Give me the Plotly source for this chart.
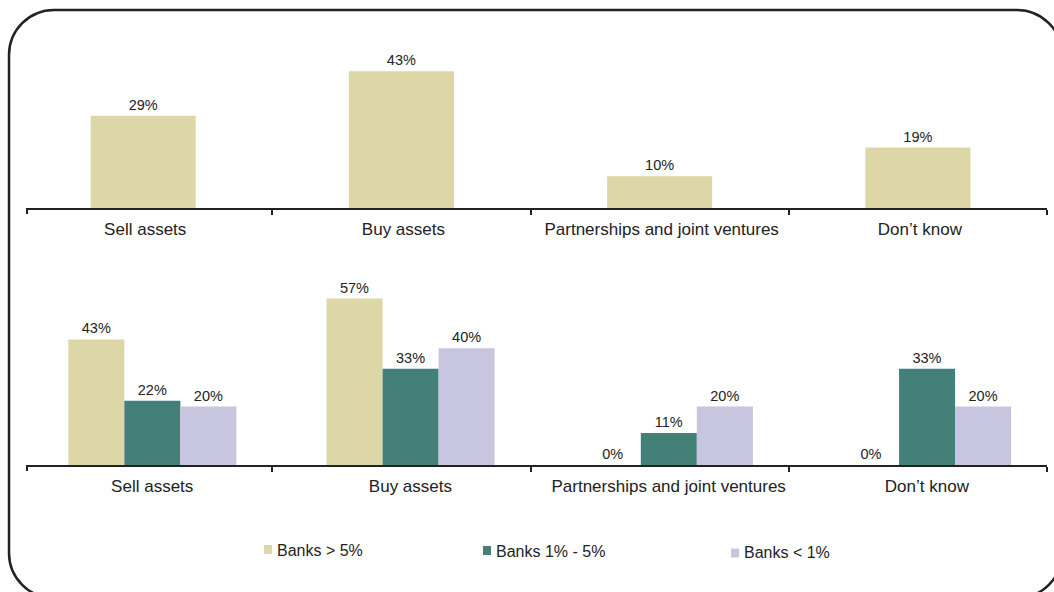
import plotly.graph_objects as go

# ---- data ----
categories = ["Sell assets", "Buy assets", "Partnerships and joint ventures", "Don\u2019t know"]
all_banks = [29, 43, 10, 19]
banks_gt5 = [43, 57, 0, 0]
banks_1_5 = [22, 33, 11, 33]
banks_lt1 = [20, 40, 20, 20]
series_names = ["Banks > 5%", "Banks 1% - 5%", "Banks < 1%"]

C_BEIGE = "#DDD7A8"
C_TEAL = "#428078"
C_LAV = "#C8C5E1"
TXT = "#222222"

W, H = 1054, 592


def px(x):
    return x / W


def py(y):
    return 1 - y / H


VAL_FONT = dict(family="Liberation Sans Narrow, Arial Narrow, Liberation Sans, Arial", size=14.5, color=TXT)
CAT_FONT = dict(family="Liberation Sans, Arial", size=17, color=TXT)
LEG_FONT = dict(family="Liberation Sans, Arial", size=16, color=TXT)

fig = go.Figure()

# top chart
fig.add_trace(go.Bar(
    x=categories, y=all_banks, xaxis="x", yaxis="y",
    marker=dict(color=C_BEIGE, line=dict(width=0)),
    width=0.407,
    texttemplate="%{y}%", textposition="outside", textfont=VAL_FONT,
    cliponaxis=False, showlegend=False, name="All banks",
))

# bottom chart
offsets = [-0.29, -0.073, 0.144]
colors = [C_BEIGE, C_TEAL, C_LAV]
for name, vals, col, off in zip(series_names, [banks_gt5, banks_1_5, banks_lt1], colors, offsets):
    fig.add_trace(go.Bar(
        x=categories, y=vals, xaxis="x2", yaxis="y2", name=name,
        marker=dict(color=col, line=dict(width=0)),
        width=0.217, offset=off,
        texttemplate="%{y}%", textposition="outside", textfont=VAL_FONT,
        cliponaxis=False, showlegend=False,
    ))

xcommon = dict(
    type="category", range=[-0.45, 3.5], domain=[px(27), px(1047)],
    showgrid=False, zeroline=False, showline=True, linecolor="#222", linewidth=2,
    ticks="outside", tickson="boundaries", ticklen=5, tickwidth=2, tickcolor="#222",
    tickfont=CAT_FONT, ticklabelstandoff=5, tickangle=0, automargin=False,
    fixedrange=True,
)
ycommon = dict(showgrid=False, zeroline=False, showline=False, showticklabels=False,
               ticks="", fixedrange=True, automargin=False)

fig.update_layout(
    width=W, height=H,
    margin=dict(l=0, r=0, t=0, b=0, autoexpand=False),
    paper_bgcolor="white", plot_bgcolor="white",
    barmode="group",
    showlegend=False,
    xaxis=dict(**xcommon, anchor="y", ticklabelshift=2),
    yaxis=dict(**ycommon, domain=[py(208), py(20)], range=[0, 188 / 3.18], anchor="x"),
    xaxis2=dict(**xcommon, anchor="y2", ticklabelshift=9),
    yaxis2=dict(**ycommon, domain=[py(465), py(270)], range=[0, 195 / 2.92], anchor="x2"),
    font=dict(family="Liberation Sans, Arial", color=TXT),
)

# rounded border frame (decoration), clipped by page edges
L, T, R, B, r = 9, 10, 1062, 598, 45
k = 0.5523 * r


def P(x, y):
    return f"{px(x):.5f},{py(y):.5f}"


path = (
    f"M {P(L, T + r)} "
    f"C {P(L, T + r - k)} {P(L + r - k, T)} {P(L + r, T)} "
    f"L {P(R - r, T)} "
    f"C {P(R - r + k, T)} {P(R, T + r - k)} {P(R, T + r)} "
    f"L {P(R, B - r)} "
    f"C {P(R, B - r + k)} {P(R - r + k, B)} {P(R - r, B)} "
    f"L {P(L + r, B)} "
    f"C {P(L + r - k, B)} {P(L, B - r + k)} {P(L, B - r)} Z"
)
shapes = [dict(type="path", path=path, xref="paper", yref="paper",
               line=dict(color="#222", width=2.5), fillcolor="rgba(0,0,0,0)", layer="above")]

# first boundary ticks at the start of each axis
for yax in (208, 465):
    shapes.append(dict(type="line", xref="paper", yref="paper",
                       x0=px(27), x1=px(27), y0=py(yax), y1=py(yax + 6),
                       line=dict(color="#222", width=2)))

# legend (key squares + labels)
legend_pos = [(264, 549.5, 276, 550.5), (483, 550.5, 495, 551), (731, 553, 743, 552.5)]
annotations = []
for name, col, (sx, sy, tx, ty) in zip(series_names, colors, legend_pos):
    shapes.append(dict(type="rect", xref="paper", yref="paper",
                       x0=px(sx), x1=px(sx + 8), y0=py(sy - 4.5), y1=py(sy + 4.5),
                       fillcolor=col, line=dict(width=0)))
    annotations.append(dict(text=name, xref="paper", yref="paper", x=px(tx), y=py(ty),
                            xanchor="left", yanchor="middle", showarrow=False,
                            font=LEG_FONT, borderpad=0))

fig.update_layout(shapes=shapes, annotations=annotations)

fig.write_html(
    "out.html",
    config={"displayModeBar": False},
    post_script="document.body.style.margin='0px';document.body.style.overflow='hidden';",
)
